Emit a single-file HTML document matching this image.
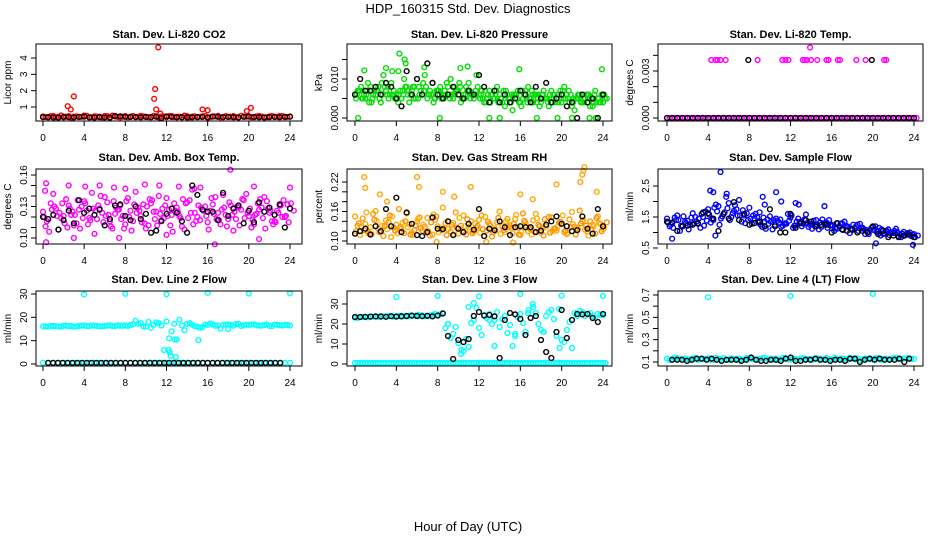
<!DOCTYPE html>
<html><head><meta charset="utf-8"><style>
html,body{margin:0;padding:0;background:#fff;}
svg{display:block;font-family:"Liberation Sans",sans-serif;}
</style></head><body>
<svg id="c" width="936" height="540" viewBox="0 0 936 540">
<text x="468" y="13" text-anchor="middle" font-size="13">HDP_160315  Std. Dev. Diagnostics</text>
<text x="468" y="531" text-anchor="middle" font-size="13">Hour of Day (UTC)</text>
</svg>
<script>
// ---------- data ----------
const xTicks = [0,4,8,12,16,20,24];
// P1 CO2
const co2A = [0.42,0.38,0.45,0.40,0.36,0.44,0.41,0.39,0.47,0.37,0.43,0.40,0.45,0.38,0.42,0.36,0.44,0.41,0.39,0.46,0.40,0.37,0.43,0.42,0.38,0.45,0.40,0.36,0.44,0.41,0.39,0.43,0.37,0.42,0.46,0.38,0.40,0.44,0.36,0.41,0.43,0.39,0.45,0.37,0.42,0.40,0.44,0.38,0.41];
const co2B = [0.39,0.44,0.37,0.48,0.41,0.35,0.43,0.40,0.46,0.38,0.42,0.36,0.44,0.47,0.39,0.41,0.37,0.45,0.40,0.43,0.38,0.46,0.36,0.42,0.44,0.39,0.41,0.47,0.37,0.43,0.40,0.45,0.38,0.42,0.36,0.44,0.41,0.39,0.46,0.40,0.37,0.43,0.42,0.38,0.45,0.40,0.44,0.39];
const co2OutX = [2.4,2.7,3.0,10.8,10.9,11.0,11.2,15.5,16.0,19.8,20.2,11.4];
const co2OutY = [1.05,0.85,1.65,1.5,2.1,0.85,4.65,0.85,0.8,0.75,0.95,0.6];
const co2K = [0.38,0.37,0.36,0.35,0.40,0.38,0.36,0.39,0.41,0.37,0.35,0.38,0.36,0.34,0.45,0.43,0.40,0.39,0.38,0.37,0.39,0.38,0.40,0.32,0.42,0.39,0.37,0.38,0.36,0.37,0.38,0.39,0.35,0.42,0.40,0.38,0.39,0.37,0.36,0.40,0.42,0.38,0.37,0.36,0.38,0.39,0.37,0.40,0.41];
// P2 Pressure
const prA = [0.006,0.007,0.005,0.008,0.006,0.004,0.007,0.009,0.006,0.005,0.008,0.007,0.010,0.006,0.005,0.009,0.007,0.006,0.008,0.005,0.007,0.006,0.009,0.005,0.006,0.004,0.007,0.005,0.006,0.003,0.005,0.006,0.004,0.007,0.005,0.006,0.004,0.005,0.007,0.005,0.004,0.006,0.003,0.005,0.004,0.006,0.003,0.005,0.004];
const prB = [0.007,0.005,0.009,0.006,0.008,0.011,0.005,0.007,0.006,0.010,0.004,0.008,0.006,0.011,0.007,0.005,0.008,0.006,0.010,0.007,0.004,0.008,0.006,0.011,0.007,0.005,0.006,0.008,0.004,0.006,0.002,0.007,0.005,0.008,0.004,0.006,0.007,0.003,0.005,0.006,0.008,0.004,0.002,0.006,0.005,0.003,0.007,0.004];
const prC = [0.005,0.008,0.006,0.004,0.007,0.009,0.006,0.012,0.005,0.007,0.006,0.008,0.005,0.009,0.006,0.004,0.007,0.005,0.006,0.008,0.009,0.005,0.007,0.006,0.005,0.007,0.004,0.006,0.005,0.007,0.004,0.006,0.003,0.005,0.007,0.004,0.006,0.005,0.004,0.006,0.007,0.005,0.004,0.006,0.005,0.006,0.004,0.005,0.006];
const prD = [0.007,0.006,0.004,0.007,0.005,0.008,0.006,0.005,0.007,0.008,0.006,0.005,0.007,0.008,0.006,0.007,0.005,0.009,0.006,0.007,0.005,0.007,0.006,0.008,0.005,0.006,0.005,0.004,0.007,0.005,0.006,0.004,0.006,0.005,0.006,0.003,0.005,0.006,0.004,0.007,0.005,0.006,0.005,0.004,0.006,0.005,0.004,0.006,0.005];
const prE = [0.006,0.005,0.007,0.005,0.007,0.006,0.008,0.006,0.004,0.006,0.007,0.005,0.008,0.007,0.006,0.005,0.006,0.007,0.005,0.006,0.008,0.006,0.005,0.007,0.006,0.004,0.006,0.007,0.005,0.004,0.006,0.005,0.007,0.004,0.006,0.005,0.006,0.004,0.006,0.004,0.005,0.007,0.005,0.006,0.004,0.005,0.006,0.004,0.005];
const prOutX = [4.3,4.8,4.9,6.7,8.2,0.3,10.9,15.9,23.9,13.0,14.0,17.6,19.6,21.0,22.7,23.3,0.9,3.0,10.2,4.2];
const prOutY = [0.0165,0.015,0.014,0.013,0,0,0.0132,0.0125,0.0125,0,0,0,0,0,0,0,0.0122,0.0128,0.0128,0.012];
const prK = [0.006,0.010,0.007,0.007,0.008,0.006,0.009,0.008,0.005,0.003,0.012,0.006,0.010,0.006,0.014,0.009,0.006,0.005,0.006,0.008,0.006,0.005,0.007,0.006,0.011,0.008,0.004,0.007,0.004,0.006,0.004,0.005,0.007,0.006,0.004,0.008,0.005,0.009,0.004,0.005,0.006,0.003,0.004,0.000,0.006,0.004,0.005,0.000,0.006];
// P3 Li-820 Temp
const tpOutX = [4.3,4.7,4.9,5.2,5.7,8.8,11.2,11.5,11.8,13.2,13.4,13.6,14.0,14.6,15.5,15.7,16.6,16.8,18.4,19.3,21.1,21.3,13.9];
const tpOutY = [0.0037,0.0037,0.0037,0.0037,0.0037,0.0037,0.0037,0.0037,0.0037,0.0037,0.0037,0.0037,0.0037,0.0037,0.0037,0.0037,0.0037,0.0037,0.0037,0.0037,0.0037,0.0037,0.0045];
const tpA = [0,0,0,0,0,0,0,0,0,0,0,0,0,0,0,0,0,0,0,0,0,0,0,0,0,0,0,0,0,0,0,0,0,0,0,0,0,0,0,0,0,0,0,0,0,0,0,0,0];
const tpKX = [7.9,19.9];
const tpKY = [0.0037,0.0037];
const tpK = [0,0,0,0,0,0,0,0,0,0,0,0,0,0,0,0,0,0,0,0,0,0,0,0,0,0,0,0,0,0,0,0,0,0,0,0,0,0,0,0,0,0,0,0,0,0,0,0,0];
// P4 Amb box temp
const abA = [0.125,0.118,0.142,0.108,0.121,0.131,0.112,0.127,0.135,0.119,0.104,0.128,0.139,0.116,0.123,0.131,0.113,0.126,0.144,0.121,0.109,0.133,0.125,0.117,0.138,0.122,0.129,0.111,0.134,0.146,0.120,0.127,0.115,0.132,0.124,0.141,0.118,0.107,0.129,0.136,0.121,0.113,0.127,0.139,0.124,0.116,0.131,0.120,0.148];
const abB = [0.111,0.133,0.128,0.119,0.137,0.122,0.114,0.130,0.126,0.143,0.118,0.124,0.134,0.109,0.127,0.121,0.138,0.116,0.129,0.132,0.112,0.125,0.140,0.119,0.127,0.133,0.121,0.108,0.136,0.124,0.117,0.130,0.126,0.139,0.113,0.122,0.131,0.118,0.127,0.142,0.110,0.123,0.129,0.135,0.116,0.126,0.120,0.132];
const abC = [0.120,0.106,0.130,0.124,0.114,0.128,0.122,0.109,0.133,0.117,0.126,0.140,0.121,0.111,0.129,0.118,0.135,0.107,0.124,0.115,0.130,0.136,0.112,0.128,0.121,0.106,0.125,0.137,0.119,0.113,0.131,0.126,0.108,0.123,0.117,0.129,0.134,0.125,0.112,0.119,0.128,0.122,0.137,0.109,0.126,0.115,0.131,0.121,0.133];
const abD = [0.116,0.127,0.121,0.133,0.110,0.125,0.136,0.119,0.113,0.128,0.131,0.115,0.122,0.135,0.127,0.109,0.120,0.132,0.126,0.114,0.137,0.118,0.123,0.131,0.112,0.126,0.119,0.133,0.124,0.116,0.129,0.121,0.138,0.118,0.127,0.111,0.122,0.130,0.137,0.124,0.117,0.133,0.119,0.128,0.113,0.124,0.136,0.115,0.126];
const abOutX = [0.3,0.2,0.3,2.5,4.1,5.5,6.9,8.0,11.3,13.2,16.7,18.2,20.5,3.0,7.4,12.0,21.0,14.7,9.9,15.3];
const abOutY = [0.152,0.145,0.096,0.150,0.149,0.150,0.148,0.147,0.150,0.149,0.094,0.165,0.149,0.100,0.100,0.103,0.099,0.147,0.151,0.148];
const abK = [0.120,0.118,0.122,0.108,0.117,0.126,0.114,0.136,0.124,0.128,0.122,0.127,0.112,0.118,0.131,0.132,0.121,0.117,0.130,0.118,0.123,0.105,0.107,0.116,0.123,0.128,0.124,0.116,0.105,0.150,0.141,0.127,0.125,0.125,0.117,0.143,0.121,0.128,0.131,0.114,0.126,0.115,0.134,0.125,0.129,0.122,0.132,0.110,0.128];
// P5 Gas stream RH
const rhA = [0.150,0.112,0.135,0.128,0.161,0.119,0.142,0.108,0.133,0.125,0.156,0.117,0.139,0.121,0.147,0.113,0.130,0.168,0.124,0.137,0.115,0.152,0.128,0.119,0.143,0.110,0.135,0.126,0.160,0.118,0.132,0.145,0.112,0.138,0.123,0.155,0.117,0.129,0.148,0.121,0.136,0.114,0.159,0.127,0.140,0.119,0.133,0.150,0.124];
const rhB = [0.131,0.146,0.118,0.155,0.125,0.110,0.139,0.127,0.165,0.116,0.134,0.122,0.148,0.129,0.111,0.143,0.125,0.136,0.119,0.158,0.131,0.113,0.140,0.127,0.152,0.121,0.109,0.138,0.130,0.145,0.116,0.127,0.156,0.120,0.142,0.133,0.111,0.149,0.125,0.137,0.118,0.144,0.129,0.162,0.123,0.140,0.115,0.135];
const rhC = [0.120,0.128,0.158,0.114,0.141,0.131,0.124,0.150,0.116,0.137,0.128,0.112,0.145,0.133,0.120,0.154,0.118,0.126,0.139,0.113,0.147,0.130,0.123,0.136,0.117,0.149,0.132,0.121,0.114,0.140,0.127,0.153,0.119,0.131,0.113,0.146,0.125,0.138,0.120,0.129,0.152,0.116,0.134,0.124,0.143,0.111,0.130,0.137,0.126];
const rhD = [0.136,0.122,0.115,0.143,0.118,0.130,0.152,0.121,0.128,0.140,0.113,0.132,0.126,0.117,0.138,0.150,0.122,0.112,0.133,0.127,0.120,0.144,0.116,0.131,0.124,0.139,0.118,0.147,0.122,0.128,0.135,0.113,0.141,0.126,0.119,0.130,0.144,0.117,0.125,0.139,0.121,0.128,0.113,0.136,0.131,0.124,0.147,0.120,0.138];
const rhOutX = [0.9,1.0,6.0,6.2,11.2,19.5,21.8,22.1,22.2,22.0,12.7,15.3,7.9,2.4,8.5,16.0,23.4,3.1,9.6,17.2];
const rhOutY = [0.23,0.208,0.23,0.21,0.21,0.215,0.22,0.243,0.25,0.235,0.098,0.097,0.098,0.195,0.2,0.195,0.2,0.18,0.19,0.185];
const rhK = [0.115,0.120,0.125,0.113,0.130,0.120,0.165,0.130,0.188,0.118,0.158,0.135,0.112,0.110,0.118,0.148,0.125,0.124,0.140,0.112,0.125,0.118,0.135,0.123,0.165,0.110,0.125,0.122,0.140,0.128,0.112,0.128,0.130,0.128,0.128,0.118,0.121,0.133,0.140,0.150,0.135,0.130,0.120,0.122,0.150,0.125,0.115,0.165,0.130];
// P6 Sample flow
const sfA = [1.45,1.30,1.55,1.20,1.38,1.62,1.28,1.50,1.75,1.40,1.85,1.60,1.95,1.70,2.05,1.55,1.80,1.45,1.65,1.35,1.52,1.25,1.42,1.30,1.48,1.22,1.35,1.58,1.28,1.40,1.18,1.32,1.25,1.12,1.30,1.20,1.08,1.25,1.15,1.02,1.18,1.05,0.95,1.10,0.98,0.88,1.02,0.92,0.95];
const sfB = [1.20,1.48,1.05,1.35,1.25,1.50,1.15,1.68,1.32,1.90,1.45,2.15,1.50,1.75,1.35,1.62,1.28,1.50,1.18,1.42,1.10,1.38,1.22,1.60,1.15,1.45,1.28,1.18,1.38,1.10,1.30,1.40,1.05,1.20,1.35,0.98,1.15,1.28,0.95,1.08,1.20,0.90,1.05,0.98,1.12,0.85,0.95,0.88];
const sfC = [1.32,1.15,1.40,1.52,1.10,1.30,1.45,1.22,1.58,1.80,1.25,1.65,1.40,1.88,1.55,1.30,1.45,1.60,1.25,1.12,1.35,1.45,1.18,1.28,1.55,1.35,1.20,1.30,1.12,1.25,1.42,1.15,1.22,1.30,1.08,1.18,1.25,1.05,1.12,0.95,1.08,1.15,0.98,0.92,1.05,0.95,0.90,1.00,0.85];
const sfD = [1.25,1.40,1.22,1.30,1.48,1.35,1.60,1.38,1.45,1.68,1.52,1.78,1.62,1.55,1.72,1.40,1.55,1.32,1.48,1.28,1.40,1.32,1.28,1.38,1.22,1.30,1.42,1.25,1.20,1.32,1.28,1.22,1.15,1.28,1.22,1.12,1.20,1.15,1.08,1.15,1.02,1.10,1.05,1.00,1.02,0.96,0.98,0.92,0.90];
const sfOutX = [5.2,4.2,4.5,5.8,9.3,10.6,11.1,12.5,15.3,4.7,0.5,20.3,23.9,9.5,12.8];
const sfOutY = [2.95,2.35,2.3,2.25,2.15,2.3,2.0,1.95,1.85,0.9,0.8,0.65,0.6,1.9,1.9];
const sfK = [1.35,1.32,1.05,1.20,1.22,1.25,1.30,1.65,1.62,1.45,1.05,1.60,1.45,1.98,1.40,1.60,1.25,1.30,1.35,1.20,1.75,1.20,1.00,1.00,1.60,1.15,1.30,1.40,1.35,1.20,1.25,1.25,1.00,1.30,1.10,1.05,1.10,1.00,1.05,1.00,1.20,0.95,1.05,0.85,0.90,0.85,0.90,0.95,0.85];
// P7 Line 2 flow
const l2A = [16.2,16.0,16.3,16.1,16.4,16.2,16.0,16.3,16.5,16.2,16.4,16.1,16.3,16.6,16.2,16.4,16.5,16.7,18.5,17.5,16.0,15.5,17.8,16.5,18.2,14.0,10.5,16.5,17.2,16.8,16.0,15.8,16.8,17.0,16.5,16.8,17.0,16.4,17.2,16.5,16.8,17.0,16.5,16.7,16.3,16.9,16.6,16.8,16.5];
const l2B = [16.1,16.3,16.2,16.0,16.4,16.3,16.1,16.4,16.2,16.5,16.3,16.1,16.4,16.2,16.6,16.4,16.3,17.0,17.2,16.2,18.0,16.8,17.5,6.0,11.0,17.2,19.0,14.5,17.5,16.2,15.5,16.9,17.3,16.4,15.2,16.9,16.7,17.1,16.3,16.8,16.9,16.6,16.4,17.0,16.2,16.8,16.5,16.7];
const l2C = [0.5,0.5,0.5,0.5,0.5,0.5,0.5,0.5,0.5,0.5,0.5,0.5,0.5,0.5,0.5,0.5,0.5,0.5,0.5,0.5,0.5,0.5,0.5,0.5,0.5,0.5,0.5,0.5,0.5,0.5,0.5,0.5,0.5,0.5,0.5,0.5,0.5,0.5,0.5,0.5,0.5,0.5,0.5,0.5,0.5,0.5,0.5,0.5,0.5];
const l2OutX = [4,8,12,16,20,24,12.2,12.3,12.4,12.9,12.8,15.1,18.0];
const l2OutY = [29.8,30.1,29.9,30.5,30.2,30.3,6.0,5.0,3.5,3.0,10.5,10.2,15.0];
const l2K = [0.5,0.5,0.5,0.5,0.5,0.5,0.5,0.5,0.5,0.5,0.5,0.5,0.5,0.5,0.5,0.5,0.5,0.5,0.5,0.5,0.5,0.5,0.5,0.5,0.5,0.5,0.5,0.5,0.5,0.5,0.5,0.5,0.5,0.5,0.5,0.5,0.5,0.5,0.5,0.5,0.5,0.5,0.5,0.5,0.5,0.5,0.5,0.5,0.5];
// P8 Line 3 flow
const l3A = [23.2,23.5,23.4,23.6,23.8,23.5,23.7,24.0,23.9,24.2,23.8,24.1,24.5,24.3,24.0,24.6,24.5,25.2,20.0,15.0,10.5,6.5,8.5,22.0,18.0,24.5,25.0,22.0,18.5,24.0,19.5,14.0,25.0,16.0,23.0,25.5,17.0,24.0,27.0,14.0,12.0,17.0,8.0,24.0,26.0,25.0,24.0,25.0,24.5];
const l3B = [23.0,23.6,23.3,23.7,23.5,23.8,24.0,23.6,24.1,23.9,24.2,24.0,24.4,23.8,24.2,25.0,24.8,18.0,13.0,18.5,5.0,12.5,20.5,28.0,14.5,23.0,20.0,26.0,22.5,15.5,9.0,23.5,20.5,25.5,28.5,20.0,16.0,26.0,22.5,27.5,11.0,21.0,25.5,26.5,24.0,25.5,23.0,24.5];
const l3C = [0.5,0.5,0.5,0.5,0.5,0.5,0.5,0.5,0.5,0.5,0.5,0.5,0.5,0.5,0.5,0.5,0.5,0.5,0.5,0.5,0.5,0.5,0.5,0.5,0.5,0.5,0.5,0.5,0.5,0.5,0.5,0.5,0.5,0.5,0.5,0.5,0.5,0.5,0.5,0.5,0.5,0.5,0.5,0.5,0.5,0.5,0.5,0.5,0.5];
const l3OutX = [4,8,12,16,20,24,9.0,11.0,13.0,15.5,17.2,19.8,10.3,16.8,13.5,11.5];
const l3OutY = [33.5,34.0,33.8,35.0,34.2,34.0,20.0,28.5,22.0,15.0,30.0,8.0,7.0,27.0,9.0,30.5];
const l3K = [23.5,23.5,23.6,23.7,23.8,23.8,23.6,23.9,23.7,23.8,24.0,24.2,24.0,23.9,24.1,23.8,24.2,25.3,14.0,2.5,12.0,11.0,12.5,24.0,26.0,24.2,24.5,23.8,3.0,22.0,25.5,24.8,22.5,14.5,23.0,24.0,12.0,6.0,3.0,16.0,27.0,13.0,22.0,25.0,24.8,25.0,23.0,21.0,25.0];
// P9 Line 4 flow
const l4A = [0.130,0.125,0.135,0.120,0.128,0.132,0.118,0.126,0.134,0.122,0.129,0.136,0.121,0.127,0.131,0.119,0.133,0.125,0.128,0.137,0.122,0.130,0.124,0.135,0.120,0.128,0.133,0.126,0.121,0.131,0.127,0.136,0.123,0.129,0.132,0.118,0.130,0.134,0.125,0.127,0.121,0.133,0.128,0.124,0.136,0.126,0.130,0.132,0.127];
const l4B = [0.118,0.140,0.127,0.131,0.115,0.136,0.124,0.128,0.120,0.139,0.126,0.117,0.133,0.129,0.122,0.138,0.125,0.119,0.134,0.127,0.131,0.116,0.137,0.123,0.130,0.118,0.135,0.128,0.124,0.133,0.119,0.127,0.138,0.121,0.129,0.136,0.124,0.117,0.132,0.128,0.135,0.120,0.131,0.126,0.139,0.123,0.134,0.128];
const l4OutX = [4,12,20];
const l4OutY = [0.68,0.69,0.71];
const l4K = [0.12,0.12,0.12,0.11,0.12,0.13,0.13,0.12,0.13,0.12,0.11,0.12,0.12,0.12,0.11,0.12,0.14,0.12,0.11,0.11,0.12,0.12,0.11,0.13,0.14,0.11,0.11,0.12,0.12,0.13,0.12,0.12,0.11,0.12,0.12,0.11,0.13,0.13,0.10,0.12,0.13,0.12,0.13,0.12,0.12,0.12,0.13,0.10,0.13];

// ---------- drawing ----------
const svg = document.getElementById('c');
const NS = 'http://www.w3.org/2000/svg';
function mk(tag, attrs, parent){const e=document.createElementNS(NS,tag);for(const k in attrs)e.setAttribute(k,attrs[k]);(parent||svg).appendChild(e);return e;}

function panel(p){
  const g = mk('g',{});
  
  
  const xs = v => p.x0 + (p.x24 - p.x0) * v / 24;
  const ys = v => p.py1 + (p.py2 - p.py1) * (v - p.v1) / (p.v2 - p.v1);
  const t = mk('text',{x:(p.box[0]+p.box[2])/2,y:p.titleY,'text-anchor':'middle','font-size':'11','font-weight':'bold'},g);
  t.textContent = p.title;
  
  
  const yl = mk('text',{x:0,y:0,'text-anchor':'middle','font-size':'10',transform:`translate(${p.box[0]-25},${(p.box[1]+p.box[3])/2}) rotate(-90)`},g);
  yl.textContent = p.ylab;
  
  
  const xa = mk('g',{},g);
  
  
  mk('line',{x1:xs(0),x2:xs(24),y1:p.box[3],y2:p.box[3],stroke:'#000','stroke-width':1},xa);
  xTicks.forEach(v=>{
    mk('line',{x1:xs(v),x2:xs(v),y1:p.box[3],y2:p.box[3]+5,stroke:'#000','stroke-width':1},xa);
    const tx=mk('text',{x:xs(v),y:p.box[3]+20,'text-anchor':'middle','font-size':'10'},xa);tx.textContent=v;
    
    
  });
  const ya = mk('g',{},g);
  
  
  p.yticks.forEach(v=>{
    const y=ys(v);
    mk('line',{x1:p.box[0]-5,x2:p.box[0],y1:y,y2:y,stroke:'#000','stroke-width':1},ya);
  });
  p.ylabels.forEach(s=>{
    const y=ys(parseFloat(s));
    const tx=mk('text',{x:0,y:0,'text-anchor':'middle','font-size':'10',transform:`translate(${p.box[0]-9},${y}) rotate(-90)`},ya);
    tx.textContent=s;
    
    
  });
  const pts = mk('g',{fill:'none','stroke-width':1.4},g);
  
  
  p.series.forEach(s=>{
    const sg = mk('g',{stroke:s.color},pts);
    
    
    const n = s.y.length;
    for(let i=0;i<n;i++){
      const xv = s.x ? s.x[i] : s.start + i*s.step;
      const c = mk('circle',{cx:xs(xv),cy:ys(s.y[i]),r:2.4},sg);
      
      
    }
  });
  const b = mk('rect',{x:p.box[0],y:p.box[1],width:p.box[2]-p.box[0],height:p.box[3]-p.box[1],fill:'none',stroke:'#000','stroke-width':1},g);
  
  
}

const row1={t:44,b:121,ty:38}, row2={t:169,b:244,ty:161}, row3={t:291,b:366,ty:283};
const col1={l:36,r:302,x0:43,x24:290}, col2={l:347,r:612,x0:355,x24:603}, col3={l:658,r:923,x0:667,x24:914};
function S(name,color,y,start,step){return {name,color,y,start,step};}
function O(name,color,x,y){return {name,color,x,y};}

panel({name:'panel-co2',title:'Stan. Dev. Li-820 CO2',ylab:'Licor ppm',box:[col1.l,row1.t,col1.r,row1.b],x0:col1.x0,x24:col1.x24,titleY:row1.ty,
  v1:1,py1:107,v2:4,py2:58,yticks:[1,2,3,4],ylabels:['1','2','3','4'],
  series:[S('co2-series','#ff0000',co2A,0,0.5),S('co2-series-b','#ff0000',co2B,0.25,0.5),O('co2-outliers','#ff0000',co2OutX,co2OutY),S('co2-ref','#000',co2K,0,0.5)]});
panel({name:'panel-pressure',title:'Stan. Dev. Li-820 Pressure',ylab:'kPa',box:[col2.l,row1.t,col2.r,row1.b],x0:col2.x0,x24:col2.x24,titleY:row1.ty,
  v1:0,py1:118,v2:0.010,py2:79,yticks:[0,0.005,0.010,0.015],ylabels:['0.000','0.010'],
  series:[S('pressure-series','#00dd00',prA,0,0.5),S('pressure-series-b','#00dd00',prB,0.25,0.5),S('pressure-series-c','#00dd00',prC,0.1,0.5),S('pressure-series-d','#00dd00',prD,0.37,0.5),S('pressure-series-e','#00dd00',prE,0.18,0.5),O('pressure-outliers','#00dd00',prOutX,prOutY),S('pressure-ref','#000',prK,0,0.5)]});
panel({name:'panel-li820-temp',title:'Stan. Dev. Li-820 Temp.',ylab:'degrees C',box:[col3.l,row1.t,col3.r,row1.b],x0:col3.x0,x24:col3.x24,titleY:row1.ty,
  v1:0,py1:118,v2:0.003,py2:71,yticks:[0,0.001,0.002,0.003,0.004],ylabels:['0.000','0.003'],
  series:[S('temp-series','#ff00ff',tpA,0,0.5),S('temp-series-b','#ff00ff',tpA,0.25,0.5),O('temp-outliers','#ff00ff',tpOutX,tpOutY),S('temp-ref','#000',tpK,0,0.5),O('temp-ref-high','#000',tpKX,tpKY)]});
panel({name:'panel-amb-box-temp',title:'Stan. Dev. Amb. Box Temp.',ylab:'degrees C',box:[col1.l,row2.t,col1.r,row2.b],x0:col1.x0,x24:col1.x24,titleY:row2.ty,
  v1:0.10,py1:238,v2:0.16,py2:175,yticks:[0.10,0.11,0.12,0.13,0.14,0.15,0.16],ylabels:['0.10','0.13','0.16'],
  series:[S('ambbox-series','#ff00ff',abA,0,0.5),S('ambbox-series-b','#ff00ff',abB,0.25,0.5),S('ambbox-series-c','#ff00ff',abC,0.1,0.5),S('ambbox-series-d','#ff00ff',abD,0.37,0.5),O('ambbox-outliers','#ff00ff',abOutX,abOutY),S('ambbox-ref','#000',abK,0,0.5)]});
panel({name:'panel-gas-rh',title:'Stan. Dev. Gas Stream RH',ylab:'percent',box:[col2.l,row2.t,col2.r,row2.b],x0:col2.x0,x24:col2.x24,titleY:row2.ty,
  v1:0.10,py1:241,v2:0.22,py2:182,yticks:[0.10,0.12,0.14,0.16,0.18,0.20,0.22],ylabels:['0.10','0.16','0.22'],
  series:[S('rh-series','#ffa500',rhA,0,0.5),S('rh-series-b','#ff9900',rhB,0.25,0.5),S('rh-series-c','#ffb000',rhC,0.1,0.5),S('rh-series-d','#ff8c00',rhD,0.37,0.5),O('rh-outliers','#ffa500',rhOutX,rhOutY),S('rh-ref','#000',rhK,0,0.5)]});
panel({name:'panel-sample-flow',title:'Stan. Dev. Sample Flow',ylab:'ml/min',box:[col3.l,row2.t,col3.r,row2.b],x0:col3.x0,x24:col3.x24,titleY:row2.ty,
  v1:0.5,py1:248,v2:2.5,py2:186,yticks:[0.5,1.0,1.5,2.0,2.5],ylabels:['0.5','1.5','2.5'],
  series:[S('sampleflow-series','#0000ff',sfA,0,0.5),S('sampleflow-series-b','#0000ff',sfB,0.25,0.5),S('sampleflow-series-c','#0000ff',sfC,0.1,0.5),S('sampleflow-series-d','#0000ff',sfD,0.37,0.5),O('sampleflow-outliers','#0000ff',sfOutX,sfOutY),S('sampleflow-ref','#000',sfK,0,0.5)]});
panel({name:'panel-line2-flow',title:'Stan. Dev. Line 2 Flow',ylab:'ml/min',box:[col1.l,row3.t,col1.r,row3.b],x0:col1.x0,x24:col1.x24,titleY:row3.ty,
  v1:0,py1:364,v2:30,py2:294,yticks:[0,10,20,30],ylabels:['0','10','20','30'],
  series:[S('line2-series','#00ffff',l2A,0,0.5),S('line2-series-b','#00ffff',l2B,0.25,0.5),S('line2-low','#00ffff',l2C,0,0.5),O('line2-outliers','#00ffff',l2OutX,l2OutY),S('line2-ref','#000',l2K,0.5,0.47)]});
panel({name:'panel-line3-flow',title:'Stan. Dev. Line 3 Flow',ylab:'ml/min',box:[col2.l,row3.t,col2.r,row3.b],x0:col2.x0,x24:col2.x24,titleY:row3.ty,
  v1:0,py1:364,v2:30,py2:304,yticks:[0,10,20,30],ylabels:['0','10','20','30'],
  series:[S('line3-series','#00ffff',l3A,0,0.5),S('line3-series-b','#00ffff',l3B,0.25,0.5),S('line3-low','#00ffff',l3C,0,0.5),S('line3-low-b','#00ffff',l3C,0.25,0.5),O('line3-outliers','#00ffff',l3OutX,l3OutY),S('line3-ref','#000',l3K,0,0.5)]});
panel({name:'panel-line4-flow',title:'Stan. Dev. Line 4 (LT) Flow',ylab:'ml/min',box:[col3.l,row3.t,col3.r,row3.b],x0:col3.x0,x24:col3.x24,titleY:row3.ty,
  v1:0.1,py1:362,v2:0.7,py2:295,yticks:[0.1,0.2,0.3,0.4,0.5,0.6,0.7],ylabels:['0.1','0.3','0.5','0.7'],
  series:[S('line4-series','#00ffff',l4A,0,0.5),S('line4-series-b','#00ffff',l4B,0.25,0.5),O('line4-outliers','#00ffff',l4OutX,l4OutY),S('line4-ref','#000',l4K,0.5,0.48)]});
</script>
</body></html>
